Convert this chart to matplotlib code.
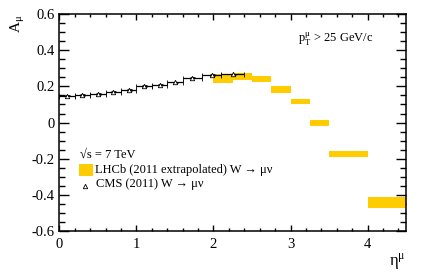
import numpy as np
import matplotlib
matplotlib.use('Agg')
import matplotlib.pyplot as plt
from matplotlib.ticker import MultipleLocator

plt.rcParams['font.family'] = ['Liberation Serif', 'DejaVu Serif']
plt.rcParams['mathtext.fontset'] = 'stix'

# CMS (2011) W -> mu nu, bin edges and asymmetry
cms_edges = [0.0, 0.2, 0.4, 0.6, 0.8, 1.0, 1.2, 1.4, 1.6, 1.85, 2.1, 2.4]
cms_asym = [0.149, 0.153, 0.159, 0.171, 0.181, 0.201, 0.210, 0.223, 0.249, 0.264, 0.266]
cms_err = [0.004, 0.004, 0.004, 0.004, 0.004, 0.004, 0.004, 0.004, 0.004, 0.004, 0.004]

# LHCb (2011 extrapolated), bin edges, central value, error
lhcb_edges = [2.0, 2.25, 2.5, 2.75, 3.0, 3.25, 3.5, 4.0, 4.5]
lhcb_asym = [0.244, 0.253, 0.240, 0.184, 0.117, -0.003, -0.172, -0.440]
lhcb_err = [0.023, 0.020, 0.018, 0.018, 0.014, 0.017, 0.016, 0.030]

fig = plt.figure(figsize=(4.27, 2.76), dpi=100)
ax = fig.add_axes([0.139, 0.163, 0.812, 0.786])

# LHCb boxes
le = np.array(lhcb_edges)
la = np.array(lhcb_asym)
lerr = np.array(lhcb_err)
ax.bar(le[:-1], 2 * lerr, width=np.diff(le), bottom=la - lerr, align='edge',
       color='#ffcc00', linewidth=0, zorder=2)

# CMS points
ce = np.array(cms_edges)
cx = 0.5 * (ce[:-1] + ce[1:])
cw = 0.5 * np.diff(ce)
ax.errorbar(cx, cms_asym, xerr=cw, yerr=cms_err, fmt='^', ms=3.2, mfc='white',
            mec='black', mew=0.6, color='black', elinewidth=0.9, capsize=1.8,
            capthick=0.9, zorder=3)

ax.set_xlim(0, 4.5)
ax.set_ylim(-0.6, 0.6)
ax.xaxis.set_major_locator(MultipleLocator(1))
ax.xaxis.set_minor_locator(MultipleLocator(0.2))
ax.yaxis.set_major_locator(MultipleLocator(0.2))
ax.yaxis.set_minor_locator(MultipleLocator(0.05))
ax.set_yticks([-0.6, -0.4, -0.2, 0, 0.2, 0.4, 0.6])
ax.set_yticklabels(['-0.6', '-0.4', '-0.2', '0', '0.2', '0.4', '0.6'])
ax.tick_params(axis='both', which='both', direction='in', top=True, right=True,
               labelsize=10.5, width=1.0)
ax.tick_params(axis='y', which='major', length=7.5, pad=3.5)
ax.tick_params(axis='y', which='minor', length=4)
ax.tick_params(axis='x', which='major', length=4.3, pad=5)
ax.tick_params(axis='x', which='minor', length=2.2)
for s in ax.spines.values():
    s.set_linewidth(1.1)

ax.set_ylabel(r'A$_{\mathregular{μ}}$', fontsize=11, loc='top', labelpad=3)
ax.set_xlabel(r'η$^{\mathregular{μ}}$', fontsize=12, loc='right', labelpad=0)

ax.text(0.905, 0.885, r'p$_{\mathregular{T}}^{\mathregular{μ}}$ > 25 GeV/c',
        transform=ax.transAxes, fontsize=9.0, ha='right', va='center')

# legend
ax.text(0.06, 0.350, '√s = 7 TeV', transform=ax.transAxes,
        fontsize=9.0, va='center', ha='left')
ax.bar([0.26], [0.067], width=0.18, bottom=[-0.295], align='edge',
       color='#ffcc00', linewidth=0)
ax.text(0.103, 0.281, 'LHCb (2011 extrapolated) W → μν',
        transform=ax.transAxes, fontsize=9.0, va='center', ha='left')
ax.plot([0.334], [-0.35], '^', ms=3.2, mfc='white', mec='black', mew=0.6)
ax.text(0.106, 0.215, 'CMS (2011) W → μν',
        transform=ax.transAxes, fontsize=9.0, va='center', ha='left')

fig.savefig('out.png', dpi=100)
